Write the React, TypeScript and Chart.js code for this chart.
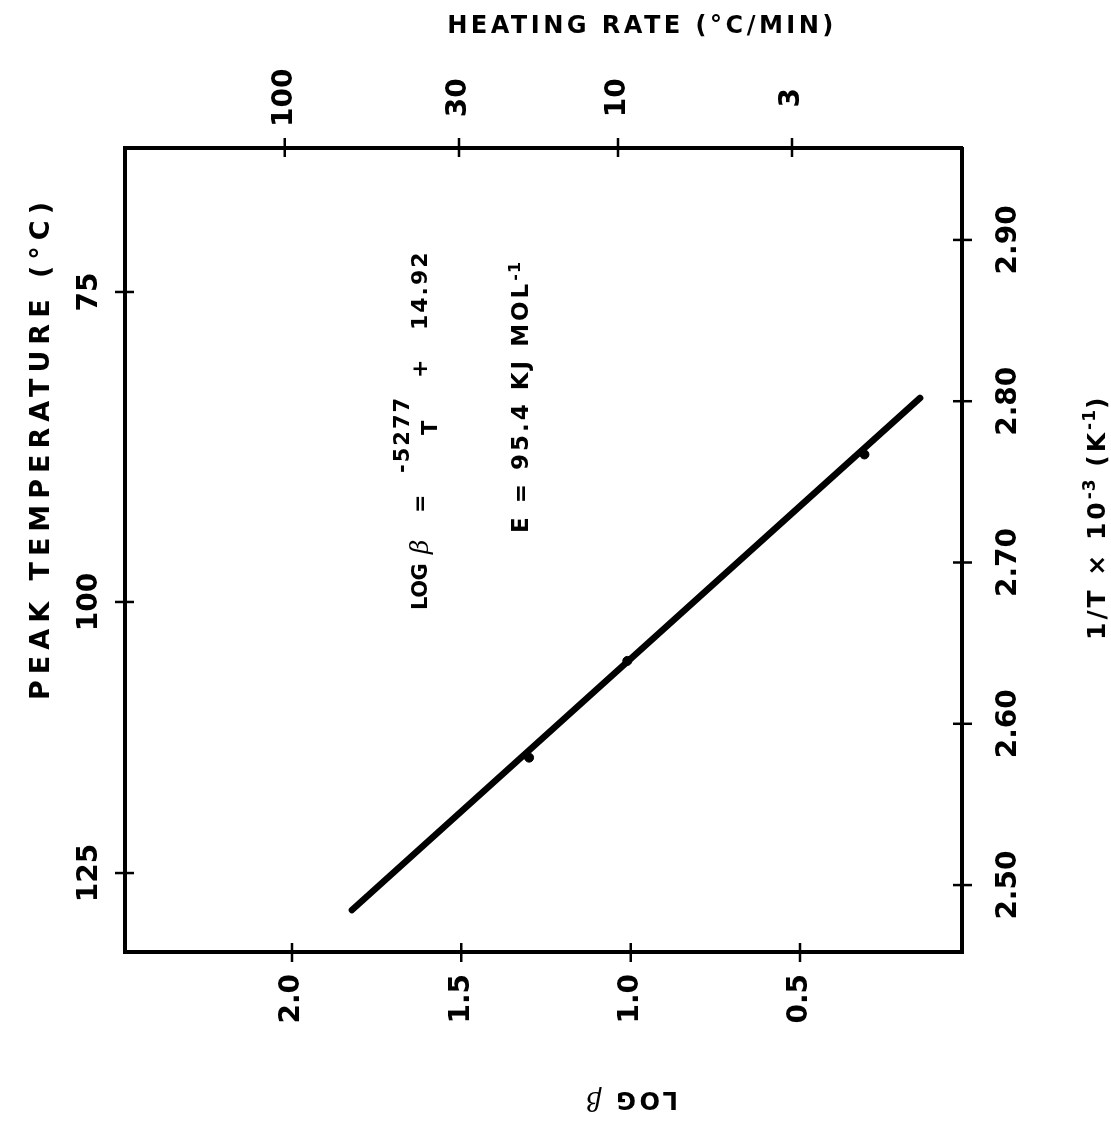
import React, { useEffect, useRef } from 'react';
import { Chart, registerables } from 'chart.js';

Chart.register(...registerables);

// ---- data ----
const HEATING_RATES = [20, 10, 2]; // °C/min, the three measured runs
const LOG_BETA = [1.30, 1.01, 0.31]; // log of heating rate at each point
const INV_T = [2.579, 2.639, 2.767]; // 1/T x 10^-3 (K^-1) at each point
const FIT_INV_T = [2.4845, 2.802]; // ends of the fitted line
const FIT_LOG_BETA = [1.823, 0.146];

// ---- tick values ----
const INV_T_TICKS = [2.5, 2.6, 2.7, 2.8, 2.9];
const TEMP_TICKS = [75, 100, 125]; // °C
const LOG_BETA_TICKS = [0.5, 1.0, 1.5, 2.0];
const RATE_TICKS = [3, 10, 30, 100]; // °C/min

// ---- texts ----
const TITLE_TEMP = 'PEAK TEMPERATURE (°C)';
const TITLE_RATE = 'HEATING RATE (°C/MIN)';
const TITLE_LOGB = 'LOG ';
const BETA = 'β';

const W = 1123;
const H = 1111;
const AREA = { left: 171, right: 975, top: 125, bottom: 962 };
const SANS = "'DejaVu Sans', sans-serif";
const TITLE_FONT = `bold 24px ${SANS}`;

type Piece = { t: string; f: string; ls?: number; dy?: number; gap?: number };

function drawRun(ctx: any, pieces: Piece[], x: number, y: number, rot: number, align: string) {
  ctx.save();
  ctx.translate(x, y);
  ctx.rotate(rot);
  ctx.textBaseline = 'alphabetic';
  ctx.textAlign = 'left';
  const widths = pieces.map((p) => {
    ctx.font = p.f;
    ctx.letterSpacing = (p.ls || 0) + 'px';
    return ctx.measureText(p.t).width + (p.gap || 0);
  });
  const total = widths.reduce((s, w) => s + w, 0);
  let cx = align === 'center' ? -total / 2 : 0;
  pieces.forEach((p, i) => {
    ctx.font = p.f;
    ctx.letterSpacing = (p.ls || 0) + 'px';
    ctx.fillText(p.t, cx, p.dy || 0);
    cx += widths[i];
  });
  ctx.restore();
}

const decorPlugin = {
  id: 'decor',
  afterDraw(chart: any) {
    const ctx = chart.ctx;
    const a = chart.chartArea;
    const { x, x2, y, y2 } = chart.scales;
    const OUT = 10;
    const IN = 9;
    ctx.save();
    ctx.strokeStyle = '#000';
    ctx.fillStyle = '#000';
    ctx.lineWidth = 2.5;
    ctx.beginPath();
    x.ticks.forEach((t: any) => {
      const p = x.getPixelForValue(t.value);
      ctx.moveTo(p, a.bottom - IN);
      ctx.lineTo(p, a.bottom + OUT);
    });
    x2.ticks.forEach((t: any) => {
      const p = x2.getPixelForValue(t.value);
      ctx.moveTo(p, a.top - OUT);
      ctx.lineTo(p, a.top + IN);
    });
    y.ticks.forEach((t: any) => {
      const p = y.getPixelForValue(t.value);
      ctx.moveTo(a.left - OUT, p);
      ctx.lineTo(a.left + IN, p);
    });
    y2.ticks.forEach((t: any) => {
      const p = y2.getPixelForValue(t.value);
      ctx.moveTo(a.right - IN, p);
      ctx.lineTo(a.right + OUT, p);
    });
    ctx.stroke();

    // axis titles
    drawRun(ctx, [{ t: TITLE_TEMP, f: `bold 27px ${SANS}`, ls: 6 }], 675, 49, 0, 'center');
    drawRun(ctx, [{ t: TITLE_RATE, f: TITLE_FONT, ls: 3.5 }], 1090, 642, Math.PI / 2, 'center');
    drawRun(
      ctx,
      [
        { t: TITLE_LOGB, f: TITLE_FONT, ls: 3.5 },
        { t: BETA, f: `italic 26px 'DejaVu Serif', serif` },
      ],
      31,
      632,
      -Math.PI / 2,
      'center'
    );
    const tf = `bold 25px ${SANS}`;
    const sf = `bold 17px ${SANS}`;
    drawRun(
      ctx,
      [
        { t: '1/T × 10', f: tf, ls: 3 },
        { t: '-3', f: sf, ls: 1, dy: -10 },
        { t: ' (K', f: tf, ls: 3 },
        { t: '-1', f: sf, ls: 1, dy: -10 },
        { t: ')', f: tf },
      ],
      483,
      1105,
      0,
      'left'
    );

    // equation
    const ef = `bold 22px ${SANS}`;
    const nf = `bold 21px ${SANS}`;
    drawRun(ctx, [{ t: 'LOG', f: `bold 21px ${SANS}`, ls: -0.5 }], 513, 427, 0, 'left');
    drawRun(ctx, [{ t: BETA, f: `italic 25px 'DejaVu Serif', serif` }], 569, 428, 0, 'left');
    drawRun(ctx, [{ t: '=', f: ef }], 610, 427, 0, 'left');
    drawRun(ctx, [{ t: '-5277', f: nf, ls: 2 }], 650, 409, 0, 'left');
    drawRun(ctx, [{ t: 'T', f: nf }], 688, 437, 0, 'left');
    drawRun(ctx, [{ t: '+', f: ef }], 745, 427, 0, 'left');
    drawRun(ctx, [{ t: '14.92', f: ef, ls: 2 }], 793, 427, 0, 'left');

    drawRun(
      ctx,
      [
        { t: 'E = 95.4 KJ MOL', f: `bold 23px ${SANS}`, ls: 3 },
        { t: '-1', f: `bold 16px ${SANS}`, ls: 1, dy: -8 },
      ],
      590,
      528,
      0,
      'left'
    );
    ctx.restore();
  },
};

const tickFont = { family: SANS, size: 28, weight: 'bold' as const, lineHeight: 1 };
const border = { display: true, color: '#000', width: 4 };
const grid = { display: false, drawTicks: false };

export default function App() {
  const ref = useRef<HTMLCanvasElement>(null);

  useEffect(() => {
    const canvas = ref.current;
    if (!canvas) return;
    const chart = new Chart(canvas, {
      type: 'scatter',
      data: {
        datasets: [
          {
            label: 'fit',
            data: FIT_INV_T.map((v, i) => ({ x: v, y: FIT_LOG_BETA[i] })),
            showLine: true,
            borderColor: '#000',
            backgroundColor: '#000',
            borderWidth: 6.5,
            borderCapStyle: 'round',
            pointRadius: 0,
            xAxisID: 'x',
            yAxisID: 'y',
          } as any,
          {
            label: HEATING_RATES.map((r) => r + ' °C/min').join(', '),
            data: INV_T.map((v, i) => ({ x: v, y: LOG_BETA[i] })),
            showLine: false,
            borderColor: '#000',
            backgroundColor: '#000',
            pointRadius: 4.5,
            xAxisID: 'x',
            yAxisID: 'y',
          } as any,
        ],
      },
      options: {
        animation: false,
        responsive: false,
        events: [],
        layout: { padding: 0 },
        plugins: { legend: { display: false }, tooltip: { enabled: false } },
        scales: {
          x: {
            type: 'linear',
            position: 'bottom',
            min: 2.4585,
            max: 2.957,
            grid,
            border,
            afterBuildTicks: (s: any) => {
              s.ticks = INV_T_TICKS.map((v) => ({ value: v }));
            },
            afterFit: (s: any) => {
              s.height = H - AREA.bottom;
            },
            ticks: {
              color: '#000',
              font: tickFont,
              padding: 33,
              autoSkip: false,
              maxRotation: 0,
              callback: (v: any) => Number(v).toFixed(2),
            },
          },
          x2: {
            type: 'linear',
            position: 'top',
            min: 2.4626,
            max: 2.9617,
            grid,
            border,
            afterBuildTicks: (s: any) => {
              s.ticks = TEMP_TICKS.map((t) => ({ value: 1000 / (t + 273.15) })).sort(
                (p, q) => p.value - q.value
              );
            },
            afterFit: (s: any) => {
              s.height = AREA.top;
            },
            ticks: {
              color: '#000',
              font: tickFont,
              padding: 21,
              autoSkip: false,
              maxRotation: 0,
              callback: (v: any) => String(Math.round(1000 / Number(v) - 273.15)),
            },
          },
          y: {
            type: 'linear',
            position: 'left',
            min: 0.022,
            max: 2.493,
            grid,
            border,
            afterBuildTicks: (s: any) => {
              s.ticks = LOG_BETA_TICKS.map((v) => ({ value: v }));
            },
            afterFit: (s: any) => {
              s.width = AREA.left;
            },
            ticks: {
              color: '#000',
              font: tickFont,
              padding: 22,
              autoSkip: false,
              callback: (v: any) => Number(v).toFixed(1),
            },
          },
          y2: {
            type: 'linear',
            position: 'right',
            min: -0.033,
            max: 2.48,
            grid,
            border,
            afterBuildTicks: (s: any) => {
              s.ticks = RATE_TICKS.map((r) => ({ value: Math.log10(r) }));
            },
            afterFit: (s: any) => {
              s.width = W - AREA.right;
            },
            ticks: {
              color: '#000',
              font: tickFont,
              padding: 21,
              crossAlign: 'center',
              autoSkip: false,
              callback: (v: any) => String(Math.round(Math.pow(10, Number(v)))),
            },
          },
        },
      } as any,
      plugins: [decorPlugin],
    });
    return () => chart.destroy();
  }, []);

  return (
    <div
      style={{
        position: 'absolute',
        left: 0,
        top: 0,
        width: 1111,
        height: 1123,
        overflow: 'hidden',
        background: '#fff',
      }}
    >
      <canvas
        ref={ref}
        width={W}
        height={H}
        style={{
          position: 'absolute',
          left: (1111 - W) / 2,
          top: (1123 - H) / 2,
          width: W,
          height: H,
          transform: 'rotate(-90deg)',
        }}
      />
    </div>
  );
}
